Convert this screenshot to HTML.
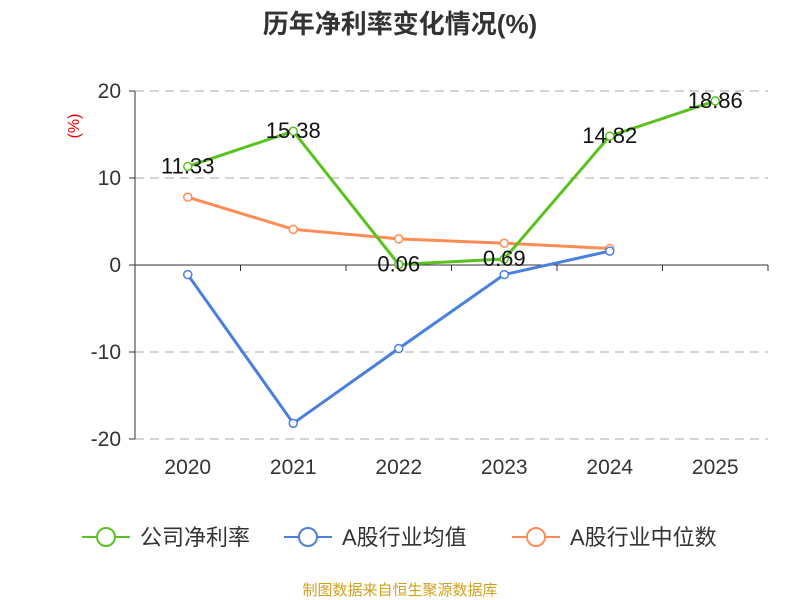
<!DOCTYPE html>
<html><head><meta charset="utf-8"><style>
body{margin:0;background:#fff;}
svg{display:block;font-family:"Liberation Sans","Noto Sans CJK SC",sans-serif;}
</style></head><body>
<svg id="c" width="800" height="600">
<text x="400" y="33" text-anchor="middle" font-size="26" font-weight="bold" fill="#333">历年净利率变化情况(%)</text>
<text transform="translate(79,126) rotate(-90)" text-anchor="middle" font-size="16" fill="#e00">(%)</text>
<g id="grid"></g><g id="series"></g>
<g>
<g><line x1="82" y1="537" x2="130" y2="537" stroke="#5ac21e" stroke-width="2"/><circle cx="106" cy="537" r="9" fill="#fff" stroke="#5ac21e" stroke-width="2"/><text x="140" y="545" font-size="22" fill="#333">公司净利率</text></g>
<g><line x1="284" y1="537" x2="332" y2="537" stroke="#4a7fe0" stroke-width="2"/><circle cx="308" cy="537" r="9" fill="#fff" stroke="#4a7fe0" stroke-width="2"/><text x="342" y="545" font-size="22" fill="#333">A股行业均值</text></g>
<g><line x1="512" y1="537" x2="560" y2="537" stroke="#ff8c55" stroke-width="2"/><circle cx="536" cy="537" r="9" fill="#fff" stroke="#ff8c55" stroke-width="2"/><text x="570" y="545" font-size="22" fill="#333">A股行业中位数</text></g>
</g>
<text x="400" y="595" text-anchor="middle" font-size="15" fill="#d0a020">制图数据来自恒生聚源数据库</text>
</svg>
<script>
const categories=["2020","2021","2022","2023","2024","2025"];
const netMargin=[11.33,15.38,0.06,0.69,14.82,18.86];
const industryAvg=[-1.1,-18.2,-9.6,-1.1,1.6,null];
const industryMedian=[7.8,4.1,3.0,2.5,1.9,null];
const yTicks=[20,10,0,-10,-20];
const NS="http://www.w3.org/2000/svg";
const x0=135,x1=768,yMin=-20,yMax=20,pTop=91,pBot=439;
const bw=(x1-x0)/categories.length;
const xs=i=>x0+bw*(i+0.5);
const ys=v=>pTop+(yMax-v)/(yMax-yMin)*(pBot-pTop);
function mk(t,a,p){const e=document.createElementNS(NS,t);for(const k in a)e.setAttribute(k,a[k]);p.appendChild(e);return e;}
const g=document.getElementById('grid'),s=document.getElementById('series');
yTicks.forEach(v=>{
 if(v!==0){const l=mk('line',{x1:x0,x2:x1,y1:ys(v),y2:ys(v),stroke:'#bbb','stroke-dasharray':'9,6','stroke-width':1.2},g);
 
 }
 const t=mk('text',{x:x0-14,y:ys(v)+7,'text-anchor':'end','font-size':21,fill:'#333'},g);t.textContent=v;
 
 
 mk('line',{x1:x0-6,x2:x0,y1:ys(v),y2:ys(v),stroke:'#333'},g);
});
mk('line',{x1:x0,x2:x0,y1:pTop,y2:pBot,stroke:'#333'},g);
const ax=mk('line',{x1:x0,x2:x1,y1:ys(0),y2:ys(0),stroke:'#333'},g);


for(let i=0;i<=categories.length;i++)mk('line',{x1:x0+bw*i,x2:x0+bw*i,y1:ys(0),y2:ys(0)+6,stroke:'#333'},g);
categories.forEach((c,i)=>{const t=mk('text',{x:xs(i),y:474,'text-anchor':'middle','font-size':21,fill:'#333'},g);t.textContent=c;
 
 });
function draw(data,color,name,labels){
 const pts=data.map((v,i)=>v==null?null:[xs(i),ys(v)]).filter(p=>p);
 const pl=mk('polyline',{points:pts.map(p=>p.join(',')).join(' '),fill:'none',stroke:color,'stroke-width':3},s);
 
 
 data.forEach((v,i)=>{if(v==null)return;
  const c=mk('circle',{cx:xs(i),cy:ys(v),r:4,fill:'#fff',stroke:color,'stroke-width':1.5},s);
  
  
  if(labels){const t=mk('text',{x:xs(i),y:ys(v)+7,'text-anchor':'middle','font-size':22,fill:'#111'},s);t.textContent=v.toFixed(2);
   
   }
 });
}
draw(industryMedian,'#ff8c55','industry-median',false);
draw(industryAvg,'#4a7fe0','industry-avg',false);
draw(netMargin,'#5ac21e','net-margin',true);
</script>
</body></html>
